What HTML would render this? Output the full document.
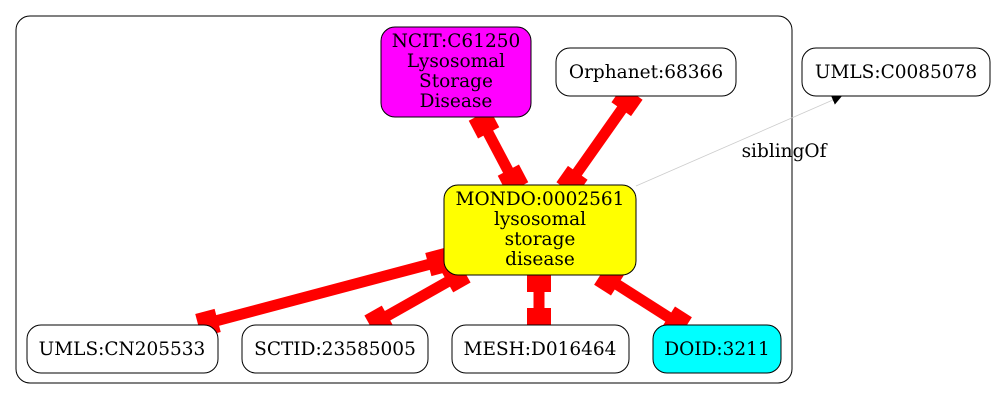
<!DOCTYPE html>
<html><head><meta charset="utf-8"><style>
html,body{margin:0;padding:0;background:#fff;}
svg{display:block;font-family:"DejaVu Serif","Liberation Serif",serif;}
</style></head><body>
<svg width="995" height="400" viewBox="0 0 995 400" xmlns="http://www.w3.org/2000/svg">
<defs>
<marker id="ar" markerUnits="userSpaceOnUse" markerWidth="12" markerHeight="10" refX="10" refY="5" orient="auto">
<path d="M0,0 L10,5 L0,10 z" fill="#000"/>
</marker>
</defs>
<rect x="16" y="16" width="776" height="367" rx="14" fill="#fff" stroke="#000" stroke-width="1"/>
<g stroke="#f00" stroke-width="11" fill="none">
<line x1="484" y1="125" x2="512" y2="178"/>
<line x1="627" y1="102" x2="572" y2="180"/>
<line x1="438" y1="262" x2="208" y2="323"/>
<line x1="456" y1="277" x2="380" y2="320"/>
<line x1="539" y1="283" x2="539" y2="318"/>
<line x1="610" y1="280" x2="676" y2="322"/>
</g>
<g fill="#f00">
<rect x="-10" y="-12" width="20" height="24" transform="translate(484,124) rotate(62.2)"/>
<rect x="-10" y="-12" width="20" height="24" transform="translate(513,179) rotate(62.2)"/>
<rect x="-10" y="-12" width="20" height="24" transform="translate(627,101) rotate(125.2)"/>
<rect x="-10" y="-12" width="20" height="24" transform="translate(572,181) rotate(125.2)"/>
<rect x="-10" y="-12" width="20" height="24" transform="translate(438,262) rotate(165.1)"/>
<rect x="-10" y="-12" width="20" height="24" transform="translate(208,323) rotate(165.1)"/>
<rect x="-10" y="-12" width="20" height="24" transform="translate(456,277) rotate(150.5)"/>
<rect x="-10" y="-12" width="20" height="24" transform="translate(379,321) rotate(150.5)"/>
<rect x="-10" y="-12" width="20" height="24" transform="translate(539,282) rotate(90)"/>
<rect x="-10" y="-12" width="20" height="24" transform="translate(539,318) rotate(90)"/>
<rect x="-10" y="-12" width="20" height="24" transform="translate(609,280) rotate(32.5)"/>
<rect x="-10" y="-12" width="20" height="24" transform="translate(677,322) rotate(32.5)"/>
</g>
<line x1="636" y1="186" x2="842" y2="96" stroke="#ccc" stroke-width="0.8" marker-end="url(#ar)"/>
<g stroke="#000" stroke-width="1">
<rect x="381" y="27" width="150" height="90" rx="14" fill="#f0f"/>
<rect x="556" y="48" width="180" height="48" rx="14" fill="#fff"/>
<rect x="802" y="48" width="188" height="48" rx="14" fill="#fff"/>
<rect x="444" y="185" width="192" height="90" rx="14" fill="#ff0"/>
<rect x="27" y="325" width="191" height="48" rx="14" fill="#fff"/>
<rect x="242" y="325" width="186" height="48" rx="14" fill="#fff"/>
<rect x="452" y="325" width="177" height="48" rx="14" fill="#fff"/>
<rect x="653" y="325" width="128" height="48" rx="14" fill="#0ff"/>
</g>
<g font-size="18.5" text-anchor="middle" fill="#000">
<text x="784" y="157">siblingOf</text>
<text x="456" y="47">NCIT:C61250</text>
<text x="456" y="67">Lysosomal</text>
<text x="456" y="87">Storage</text>
<text x="456" y="107">Disease</text>
<text x="646" y="78">Orphanet:68366</text>
<text x="896" y="78">UMLS:C0085078</text>
<text x="540" y="205">MONDO:0002561</text>
<text x="540" y="225">lysosomal</text>
<text x="540" y="245">storage</text>
<text x="540" y="265">disease</text>
<text x="122" y="355">UMLS:CN205533</text>
<text x="335" y="355">SCTID:23585005</text>
<text x="540" y="355">MESH:D016464</text>
<text x="717" y="355">DOID:3211</text>
</g>
</svg>
</body></html>
